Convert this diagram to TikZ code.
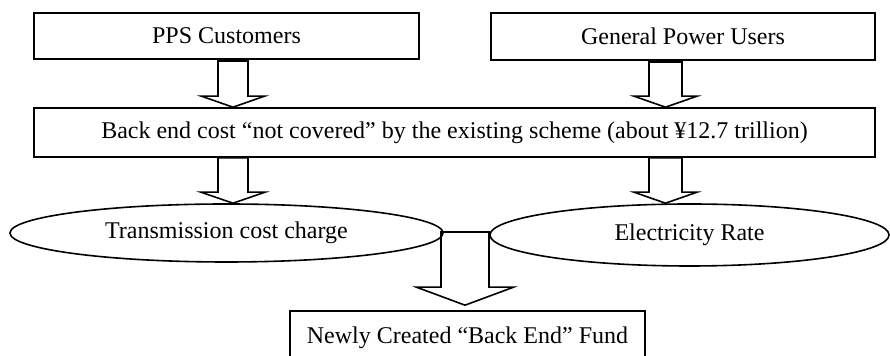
\documentclass[tikz,border=0pt]{standalone}
\usepackage{fontspec}
\setmainfont{Liberation Serif}
\usetikzlibrary{calc,positioning}
\usepgflibrary{shapes.geometric}
\tikzset{
	box/.style={draw,line width=0.8pt,inner sep=0pt,font=\fontsize{12}{14}\selectfont},
	oval/.style={draw,ellipse,line width=0.8pt,inner sep=0pt,font=\fontsize{12}{14}\selectfont},
	hollow/.style={draw,line width=0.8pt,line join=miter}
}
% #1 start, #2 tip, #3 half shaft, #4 half head, #5 head length
\newcommand{\hollowarrow}[5]{%
	\draw[hollow] ($(#1)+(-#3,0)$) -- ($(#2)+(-#3,-#5)$) -- ($(#2)+(-#4,-#5)$) -- (#2)
		-- ($(#2)+(#4,-#5)$) -- ($(#2)+(#3,-#5)$) -- ($(#1)+(#3,0)$) -- cycle;}
\begin{document}
\begin{tikzpicture}[x=0.5pt,y=-0.5pt]
	\clip (0,0) rectangle (890,356);
	\useasboundingbox (0,0) rectangle (890,356);
	\node[box,minimum width=192.5pt,minimum height=23pt] (pps) at (226.5,36) {PPS Customers};
	\node[box,minimum width=192pt,minimum height=23.5pt] (gen) at (683,36.5) {General Power Users};
	\node[box,minimum width=420.5pt,minimum height=24.5pt] (cost) at (454.5,132.5)
		{Back end cost “not covered” by the existing scheme (about ¥12.7 trillion)};
	\node[oval,minimum width=216.5pt,minimum height=29pt] (tcc) at (226.5,233) {Transmission cost charge};
	\node[oval,minimum width=199.5pt,minimum height=31pt] (rate) at (689.5,235) {Electricity Rate};
	\node[box,minimum width=177.5pt,minimum height=24pt,text depth=0pt] (fund) at (467.5,335)
		{Newly Created “Back End” Fund};
	\coordinate (a1) at (233,61);
	\coordinate (a2) at (665.5,62);
	\coordinate (a3) at (cost.south -| a1);
	\coordinate (a4) at (cost.south -| a2);
	\coordinate (a5) at (465,232);
	\hollowarrow{a1}{a1 |- cost.north}{15}{31.5}{11}
	\hollowarrow{a2}{a2 |- cost.north}{16.5}{31.5}{11}
	\hollowarrow{a3}{a3 |- tcc.north}{15}{32}{11}
	\hollowarrow{a4}{a4 |- tcc.north}{16.5}{31.5}{11}
	\hollowarrow{a5}{$(a5 |- fund.north)+(0,-5)$}{24}{48.5}{18}
\end{tikzpicture}
\end{document}
